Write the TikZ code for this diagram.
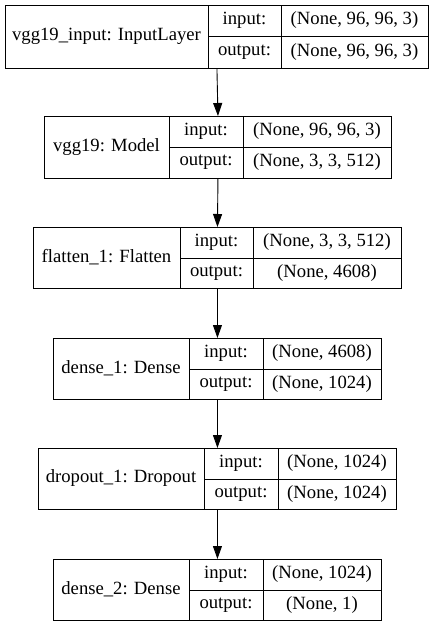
\documentclass[tikz,border=0pt]{standalone}
\usepackage{fontspec}
\setmainfont{Liberation Serif}
\usetikzlibrary{arrows.meta}
\tikzset{
  cellline/.style={draw=black, line width=0.9pt},
  boxframe/.style={cellline, inner sep=0pt, anchor=north west, fill=white},
  celltext/.style={inner sep=0pt, font=\fontsize{18.67}{22}\selectfont},
  conn/.style={line width=0.9pt, -{Triangle[length=13pt,width=9pt]}}
}
% #1 name, #2 L, #3 T, #4 D1, #5 D2, #6 R, #7 M, #8 B, #9 label, #10 in, #11 out
\newcommand{\layerbox}[8]{%
  \node[boxframe, minimum width={(#6-#2)*1pt}, minimum height={(#8-#3)*1pt}] (#1) at (#2,#3) {};
  \draw[cellline] (#4,#3) -- (#4,#8);
  \draw[cellline] (#5,#3) -- (#5,#8);
  \draw[cellline] (#4,#7) -- (#6,#7);
  \coordinate (#1-L) at ({(#2+#4)/2},{(#3+#8)/2});
  \coordinate (#1-I) at ({(#4+#5)/2},{(#3+#7)/2});
  \coordinate (#1-O) at ({(#4+#5)/2},{(#7+#8)/2});
  \coordinate (#1-IV) at ({(#5+#6)/2},{(#3+#7)/2});
  \coordinate (#1-OV) at ({(#5+#6)/2},{(#7+#8)/2});
}
\newcommand{\layertext}[4]{%
  \node[celltext] (#1-lab) at (#1-L) {#2};
  \node[celltext] (#1-in) at (#1-I) {input:};
  \node[celltext] (#1-out) at (#1-O) {output:};
  \node[celltext] (#1-inv) at (#1-IV) {#3};
  \node[celltext] (#1-outv) at (#1-OV) {#4};
}
\begin{document}
\begin{tikzpicture}[x=1pt,y=-1pt]
\useasboundingbox[fill=white] (0,0) rectangle (435,627);
\layerbox{b1}{5}{5}{208}{281}{428}{36}{68}
\layertext{b1}{vgg19\_input: InputLayer}{(None, 96, 96, 3)}{(None, 96, 96, 3)}
\layerbox{b2}{44}{116}{169}{243}{391}{147}{178}
\layertext{b2}{vgg19: Model}{(None, 96, 96, 3)}{(None, 3, 3, 512)}
\layerbox{b3}{33}{227}{180}{253}{401}{258}{288}
\layertext{b3}{flatten\_1: Flatten}{(None, 3, 3, 512)}{(None, 4608)}
\layerbox{b4}{53}{338}{189}{263}{381}{369}{399}
\layertext{b4}{dense\_1: Dense}{(None, 4608)}{(None, 1024)}
\layerbox{b5}{38}{448}{204}{278}{396}{479}{509}
\layertext{b5}{dropout\_1: Dropout}{(None, 1024)}{(None, 1024)}
\layerbox{b6}{53}{559}{189}{263}{381}{590}{620}
\layertext{b6}{dense\_2: Dense}{(None, 1024)}{(None, 1)}
\draw[conn] (b1.south) -- (b2.north);
\draw[conn] (b2.south) -- (b3.north);
\draw[conn] (b3.south) -- (b4.north);
\draw[conn] (b4.south) -- (b5.north);
\draw[conn] (b5.south) -- (b6.north);
\end{tikzpicture}
\end{document}
